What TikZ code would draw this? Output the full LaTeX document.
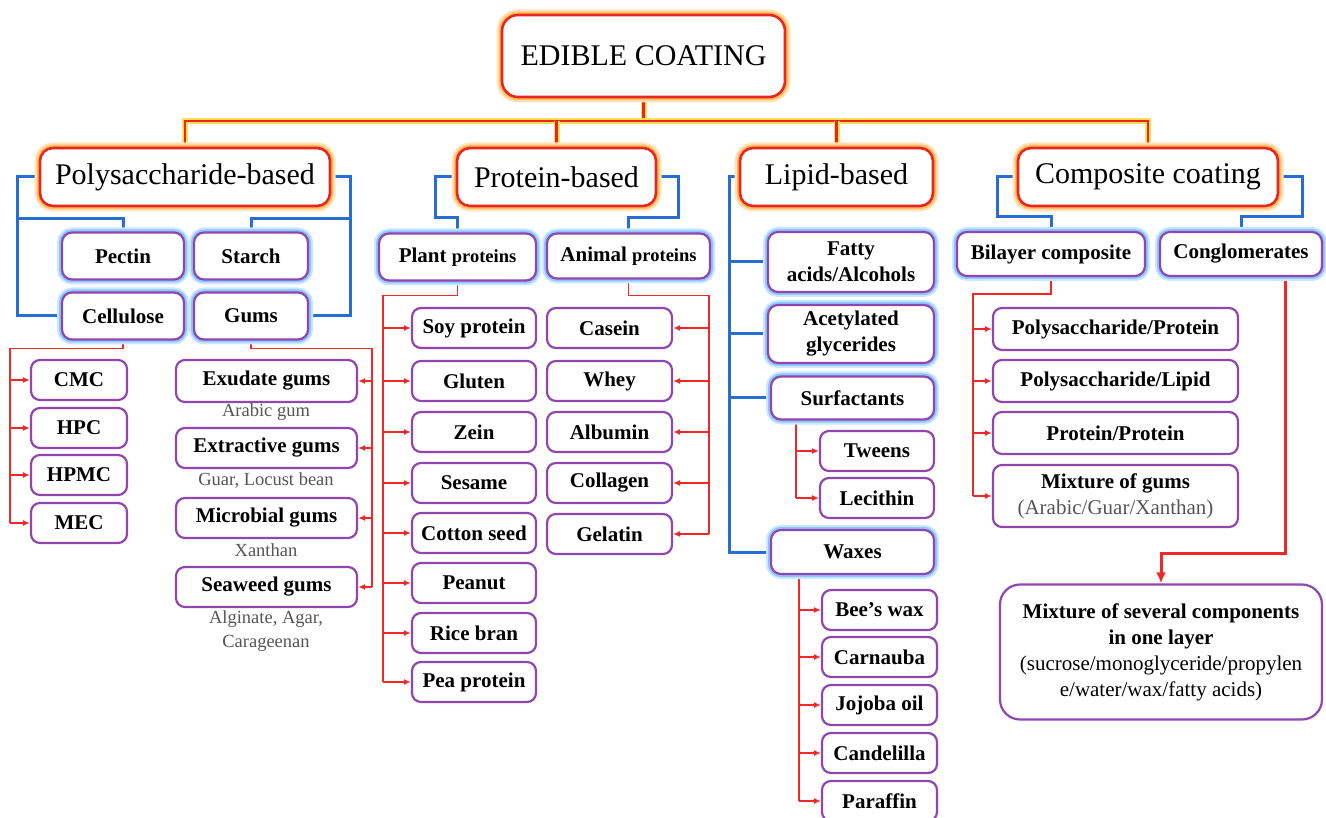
\documentclass[tikz,border=0pt]{standalone}
\usepackage{fontspec}
\setmainfont{Liberation Serif}
\usetikzlibrary{arrows.meta,backgrounds}
\definecolor{ecRed}{RGB}{232,38,30}
\definecolor{ecGlowO}{RGB}{255,190,95}
\definecolor{ecGlowY}{RGB}{255,222,90}
\definecolor{ecBlue}{RGB}{40,110,210}
\definecolor{ecPurple}{RGB}{145,70,175}
\definecolor{ecGlowB}{RGB}{140,200,255}
\definecolor{ecLineRed}{RGB}{240,40,40}
\definecolor{ecGray}{RGB}{85,85,85}
\begin{document}
\begin{tikzpicture}[x=1pt,y=-1pt,
  wh/.style 2 args={minimum width=#1pt,minimum height=#2pt},
  catbox/.style={draw=ecRed, line width=2.6pt, fill=white, rounded corners=13pt, inner sep=0pt,
    preaction={draw=ecGlowO!45, line width=11pt},
    preaction={draw=ecGlowO, line width=6.5pt},
    font=\fontsize{30}{34}\selectfont},
  subbox/.style={draw=ecPurple, line width=2.2pt, fill=white, rounded corners=10pt, inner sep=0pt, align=center,
    preaction={draw=ecGlowB!45, line width=10pt},
    preaction={draw=ecGlowB, line width=6pt},
    font=\bfseries\fontsize{21}{26}\selectfont},
  itembox/.style={draw=ecPurple, line width=2.2pt, fill=white, rounded corners=9pt, inner sep=0pt, align=center,
    font=\bfseries\fontsize{21}{26}\selectfont},
  note/.style={text=ecGray, inner sep=0pt, align=center, font=\fontsize{18.5}{24}\selectfont},
  topline/.style={draw=ecRed, line width=2.2pt, preaction={draw=ecGlowY, line width=6pt}},
  blueline/.style={draw=ecBlue, line width=3pt},
  redline/.style={draw=ecLineRed, line width=1.4pt},
  redarrow/.style={draw=ecLineRed, line width=1.4pt, -{Latex[length=7pt,width=6pt]}},
  bigarrow/.style={draw=ecLineRed, line width=3pt, -{Latex[length=11pt,width=10pt]}}
]
\useasboundingbox (0,0) rectangle (1326,818);

% ---------- top ----------
\node[catbox, wh={283}{82}, rounded corners=16pt] (edible) at (643.5,56) {EDIBLE COATING};
\node[catbox, wh={290}{58}] (poly) at (185,177) {Polysaccharide-based};
\node[catbox, wh={199}{58}] (prot) at (556.5,177) {Protein-based};
\node[catbox, wh={193}{58}] (lipid) at (836.5,177) {Lipid-based};
\node[catbox, wh={260}{58}] (comp) at (1148,177) {Composite coating};

% ---------- polysaccharide ----------
\node[subbox, wh={122}{47}] (pectin) at (123,256) {Pectin};
\node[subbox, wh={114}{47}] (starch) at (251,256) {Starch};
\node[subbox, wh={122}{47}] (cell) at (123,316) {Cellulose};
\node[subbox, wh={114}{47}] (gums) at (251,316) {Gums};

\foreach \n/\t/\y in {cmc/CMC/380, hpc/HPC/428, hpmc/HPMC/475, mec/MEC/523}
  \node[itembox, wh={96}{40}] (\n) at (79,\y) {\t};

\node[itembox, wh={181}{42}] (exud) at (266.5,381) {Exudate gums};
\node[note] (arabic) at (266,412) {Arabic gum};
\node[itembox, wh={181}{40}] (extr) at (266.5,448) {Extractive gums};
\node[note] (guar) at (266,481) {Guar, Locust bean};
\node[itembox, wh={181}{40}] (micr) at (266.5,518) {Microbial gums};
\node[note] (xanth) at (266,550) {Xanthan};
\node[itembox, wh={181}{40}] (seaw) at (266.5,587) {Seaweed gums};
\node[note] (alg) at (266,631) {Alginate, Agar,\\Carageenan};

% ---------- protein ----------
\node[subbox, wh={157}{47}] (plant) at (457.5,257) {Plant {\fontsize{18.5}{22}\selectfont proteins}};
\node[subbox, wh={163}{45}] (animal) at (628.5,256) {Animal {\fontsize{18.5}{22}\selectfont proteins}};

\foreach \n/\t/\y in {soy/Soy protein/328, glut/Gluten/381, zein/Zein/432, ses/Sesame/483,
  cott/Cotton seed/533, pean/Peanut/583, rice/Rice bran/633, pea/Pea protein/682}
  \node[itembox, wh={124}{40}] (\n) at (474,\y) {\t};

\foreach \n/\t/\y in {cas/Casein/328, whey/Whey/381, alb/Albumin/432, coll/Collagen/483, gel/Gelatin/534}
  \node[itembox, wh={125}{40}] (\n) at (609.5,\y) {\t};

% ---------- lipid ----------
\node[subbox, wh={166}{60}] (fatty) at (851,262) {Fatty\\acids/Alcohols};
\node[subbox, wh={166}{58}] (acet) at (851,334) {Acetylated\\glycerides};
\node[subbox, wh={163}{43}] (surf) at (852.5,398) {Surfactants};
\node[itembox, wh={114}{40}] (tween) at (877,451) {Tweens};
\node[itembox, wh={114}{40}] (leci) at (877,498) {Lecithin};
\node[subbox, wh={163}{44}] (waxes) at (852.5,552) {Waxes};

\foreach \n/\t/\y in {bees/Bee’s wax/610, carn/Carnauba/657, jojo/Jojoba oil/705, cand/Candelilla/753, paraf/Paraffin/801}
  \node[itembox, wh={115}{40}] (\n) at (879.5,\y) {\t};

% ---------- composite ----------
\node[subbox, wh={188}{44}] (bilayer) at (1051,254) {Bilayer composite};
\node[subbox, wh={162}{44}] (congl) at (1241,254) {Conglomerates};

\node[itembox, wh={245}{42}] (pp) at (1115.5,329) {Polysaccharide/Protein};
\node[itembox, wh={245}{42}] (pl) at (1115.5,381) {Polysaccharide/Lipid};
\node[itembox, wh={245}{42}] (prpr) at (1115.5,433) {Protein/Protein};
\node[itembox, wh={245}{62}] (mixg) at (1115.5,496) {Mixture of gums\\{\mdseries\color{ecGray}(Arabic/Guar/Xanthan)}};

\node[itembox, wh={322}{135}, rounded corners=20pt] (mixture) at (1161,652)
  {Mixture of  several components\\in one layer\\{\mdseries (sucrose/monoglyceride/propylen}\\{\mdseries e/water/wax/fatty acids)}};

% ---------- connectors ----------
\coordinate (cbus) at (10,0);
\coordinate (gbus) at (372,0);
\coordinate (pbus) at (383,0);
\coordinate (abus) at (709,0);
\coordinate (sbus) at (796,0);
\coordinate (wbus) at (799,0);
\coordinate (bbus) at (973,0);
\coordinate (kbus) at (1285,0);

\begin{scope}[on background layer]
  % top tree
  \draw[topline] (edible.south) -- ++(0,25);
  \draw[topline] (poly.north) -- ++(0,-26) -| (comp.north);
  \draw[topline] (prot.north) -- ++(0,-26);
  \draw[topline] (lipid.north) -- ++(0,-26);

  % blue brackets
  \draw[blueline] (poly.west) -| (17,316) -- (cell.west);
  \draw[blueline] (17,219) -| (pectin.north);
  \draw[blueline] (poly.east) -| (350,316) -- (gums.east);
  \draw[blueline] (350,219) -| (starch.north);

  \draw[blueline] (prot.west) -| (435,218) -| (plant.north);
  \draw[blueline] (prot.east) -| (678,218) -| (animal.north);

  \draw[blueline] (lipid.west) -| (729,552) -- (waxes.west);
  \draw[blueline] (729,262) -- (fatty.west);
  \draw[blueline] (729,334) -- (acet.west);
  \draw[blueline] (729,398) -- (surf.west);

  \draw[blueline] (comp.west) -| (997,217) -| (bilayer.north);
  \draw[blueline] (comp.east) -| (1302,217) -| (congl.north);

  % red trees
  \draw[redline] (cell.south) -- ++(0,8) -| (mec.west -| cbus);
  \foreach \n in {cmc,hpc,hpmc,mec} \draw[redarrow] (\n.west -| cbus) -- (\n.west);

  \draw[redline] (gums.south) -- ++(0,8) -| (seaw.east -| gbus);
  \foreach \n in {exud,extr,micr,seaw} \draw[redarrow] (\n.east -| gbus) -- (\n.east);

  \draw[redline] (plant.south) -- ++(0,14) -| (pea.west -| pbus);
  \foreach \n in {soy,glut,zein,ses,cott,pean,rice,pea} \draw[redarrow] (\n.west -| pbus) -- (\n.west);

  \draw[redline] (animal.south) -- ++(0,16) -| (gel.east -| abus);
  \foreach \n in {cas,whey,alb,coll,gel} \draw[redarrow] (\n.east -| abus) -- (\n.east);

  \draw[redline] (surf.south -| sbus) -- (leci.west -| sbus);
  \foreach \n in {tween,leci} \draw[redarrow] (\n.west -| sbus) -- (\n.west);

  \draw[redline] (waxes.south -| wbus) -- (paraf.west -| wbus);
  \foreach \n in {bees,carn,jojo,cand,paraf} \draw[redarrow] (\n.west -| wbus) -- (\n.west);

  \draw[redline] (bilayer.south) -- ++(0,17) -| (mixg.west -| bbus);
  \foreach \n in {pp,pl,prpr,mixg} \draw[redarrow] (\n.west -| bbus) -- (\n.west);

  \draw[bigarrow] (congl.south -| kbus) -- (1285,553) -| (mixture.north);
\end{scope}
\end{tikzpicture}
\end{document}
